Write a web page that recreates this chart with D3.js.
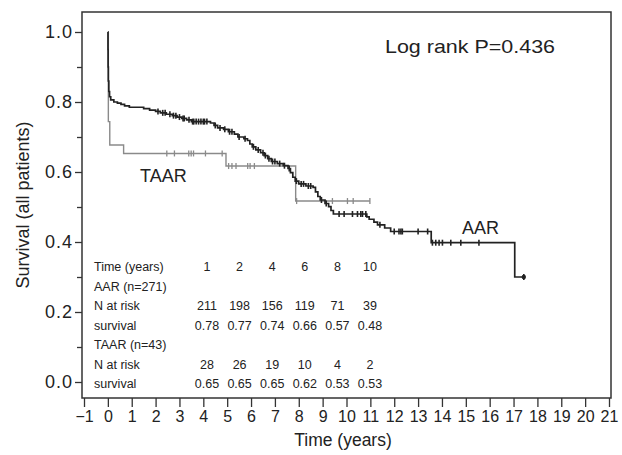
<!DOCTYPE html>
<html><head><meta charset="utf-8">
<script src="https://cdn.jsdelivr.net/npm/d3@7"></script>
<style>body{margin:0;background:#fff}svg{display:block}text{font-family:"Liberation Sans",Arial,sans-serif}</style>
</head><body><svg id="c" width="622" height="455"></svg>
<script>
// ---- data ----
const aarSteps = [[0,1.0],[0.005,0.95],[0.01,0.90],[0.02,0.86],[0.04,0.83],[0.07,0.815],[0.12,0.806],[0.25,0.80],[0.4,0.797],[0.55,0.793],[0.7,0.789],[0.9,0.785],[1.5,0.781],
 [1.75,0.777],[2.0,0.773],[2.2,0.769],[2.45,0.765],[2.7,0.761],[2.9,0.757],[3.1,0.753],[3.3,0.749],[3.5,0.744],[4.3,0.74],[4.45,0.733],[4.6,0.726],[4.85,0.722],
 [5.05,0.715],[5.3,0.708],[5.45,0.70],[5.7,0.695],[5.85,0.69],[5.95,0.68],[6.05,0.672],[6.2,0.663],[6.4,0.655],[6.55,0.647],[6.7,0.638],[6.85,0.63],[7.1,0.624],
 [7.35,0.618],[7.55,0.61],[7.65,0.598],[7.75,0.585],[7.85,0.574],[8.0,0.566],[8.3,0.56],[8.6,0.556],[8.7,0.543],[8.8,0.53],[8.9,0.52],[9.1,0.51],[9.25,0.501],
 [9.35,0.49],[9.45,0.48],[10.85,0.472],[10.95,0.465],[11.15,0.457],[11.3,0.449],[11.6,0.44],[11.85,0.43],[13.55,0.398],[17.05,0.30]];
const aarEnd = 17.43;
const aarCensor = [2.1,2.3,2.4,2.6,2.75,2.85,3.0,3.15,3.2,3.4,3.55,3.6,3.7,3.8,3.9,4.0,4.05,4.15,4.5,4.7,4.9,5.1,5.2,5.5,5.75,6.1,6.3,6.5,6.6,6.75,6.9,7.0,7.2,7.4,7.6,7.9,8.1,8.2,8.4,8.5,8.95,9.15,9.69,9.9,10.25,10.46,10.6,10.67,10.81,11.4,12.0,12.2,12.28,12.34,13.0,13.4,13.6,13.74,13.88,14.02,14.37,14.79,15.55,17.43];
const taarSteps = [[0,1.0],[0.02,0.744],[0.08,0.677],[0.66,0.653],[4.95,0.617],[7.87,0.517]];
const taarEnd = 10.98;
const taarCensor = [2.47,2.79,3.39,3.49,3.59,4.09,4.79,5.06,5.2,5.37,5.86,5.96,6.14,7.91,9.41,10.04,10.28,10.98];
const yTicks = [0,0.2,0.4,0.6,0.8,1.0];
const yMinor = [0.1,0.3,0.5,0.7,0.9];
const xTicks = d3.range(-1,22);
const tableYears = [1,2,4,6,8,10];
const aarRisk = [211,198,156,119,71,39];
const aarSurv = ["0.78","0.77","0.74","0.66","0.57","0.48"];
const taarRisk = [28,26,19,10,4,2];
const taarSurv = ["0.65","0.65","0.65","0.62","0.53","0.53"];
const tableLabels = ["Time (years)","AAR (n=271)","N at risk","survival","TAAR (n=43)","N at risk","survival"];

// ---- drawing ----
const svg = d3.select("#c");
const x = d3.scaleLinear().domain([-1,21]).range([84,609]);
const y = d3.scaleLinear().domain([0,1]).range([382,32]);
const box = {x0:82,x1:611,y0:12,y1:398};

svg.append("rect").attr("x",box.x0).attr("y",box.y0).attr("width",box.x1-box.x0).attr("height",box.y1-box.y0)
  .attr("fill","none").attr("stroke","#333").attr("stroke-width",1.5);

// y axis
const ya = svg.append("g").attr("transform",`translate(${box.x0},0)`)
  .call(d3.axisLeft(y).tickValues(yTicks).tickFormat(d3.format(".1f")).tickSize(7).tickPadding(2));
ya.select(".domain").remove();
ya.selectAll("line").attr("stroke","#333").attr("stroke-width",1.3);
ya.selectAll("text").attr("font-size",18).attr("letter-spacing",1).attr("fill","#222");
svg.append("g").attr("transform",`translate(${box.x0},0)`)
  .call(d3.axisLeft(y).tickValues(yMinor).tickFormat("").tickSize(5))
  .call(g=>{g.select(".domain").remove();g.selectAll("line").attr("stroke","#333").attr("stroke-width",1.3);});

// x axis
const xa = svg.append("g").attr("transform",`translate(0,${box.y1})`)
  .call(d3.axisBottom(x).tickValues(xTicks).tickFormat(d3.format("d")).tickSize(9).tickPadding(4));
xa.select(".domain").remove();
xa.selectAll("line").attr("stroke","#333").attr("stroke-width",1.3);
xa.selectAll("text").attr("font-size",16).attr("fill","#222");

// titles
svg.append("text").attr("x",343).attr("y",446).attr("text-anchor","middle").attr("font-size",17.5).attr("fill","#222").text("Time (years)");
svg.append("text").attr("transform","translate(29,205) rotate(-90)").attr("text-anchor","middle").attr("font-size",18).attr("fill","#222").text("Survival (all patients)");

// step curves
function stepPath(steps,end){
  const pts = steps.map(d=>[d[0],d[1]]);
  pts.push([end,steps[steps.length-1][1]]);
  return d3.line().x(d=>x(d[0])).y(d=>y(d[1])).curve(d3.curveStepAfter)(pts);
}
function survAt(steps,t){let s=steps[0][1];for(const d of steps){if(d[0]<=t)s=d[1];}return s;}

svg.append("path").attr("d",stepPath(taarSteps,taarEnd)).attr("fill","none").attr("stroke","#8a8a8a").attr("stroke-width",1.4);
svg.append("g").selectAll("line").data(taarCensor).join("line")
  .attr("x1",d=>x(d)).attr("x2",d=>x(d)).attr("y1",d=>y(survAt(taarSteps,d))-3).attr("y2",d=>y(survAt(taarSteps,d))+3)
  .attr("stroke","#8a8a8a").attr("stroke-width",1.3);

svg.append("path").attr("d",stepPath(aarSteps,aarEnd)).attr("fill","none").attr("stroke","#222").attr("stroke-width",1.7);
svg.append("g").selectAll("line").data(aarCensor).join("line")
  .attr("x1",d=>x(d)).attr("x2",d=>x(d)).attr("y1",d=>y(survAt(aarSteps,d))-3).attr("y2",d=>y(survAt(aarSteps,d))+3)
  .attr("stroke","#222").attr("stroke-width",1.6);
svg.append("circle").attr("cx",x(aarEnd)).attr("cy",y(survAt(aarSteps,aarEnd))).attr("r",2.2).attr("fill","#222");

// labels
svg.append("text").attr("x",385).attr("y",53).attr("font-size",18.5).attr("textLength",170).attr("lengthAdjust","spacingAndGlyphs").attr("fill","#222").text("Log rank P=0.436");
svg.append("text").attr("x",140).attr("y",182).attr("font-size",18).attr("fill","#222").text("TAAR");
svg.append("text").attr("x",462).attr("y",234).attr("font-size",18).attr("fill","#222").text("AAR");

// table
const rowY = [267,286.5,306,325.5,345,364.5,384];
const colX = d3.scaleLinear().domain([0,5]).range([207,370]);
const tg = svg.append("g").attr("font-size",12.5).attr("fill","#222");
tg.selectAll(".lbl").data(tableLabels).join("text").attr("class","lbl")
  .attr("x",94).attr("y",(d,i)=>rowY[i]).attr("dy","0.35em").text(d=>d);
const rows = [[0,tableYears],[2,aarRisk],[3,aarSurv],[5,taarRisk],[6,taarSurv]];
rows.forEach(([r,vals])=>{
  tg.selectAll(".r"+r).data(vals).join("text").attr("class","r"+r)
    .attr("x",(d,i)=>colX(i)).attr("y",rowY[r]).attr("dy","0.35em").attr("text-anchor","middle").text(d=>d);
});
</script></body></html>
